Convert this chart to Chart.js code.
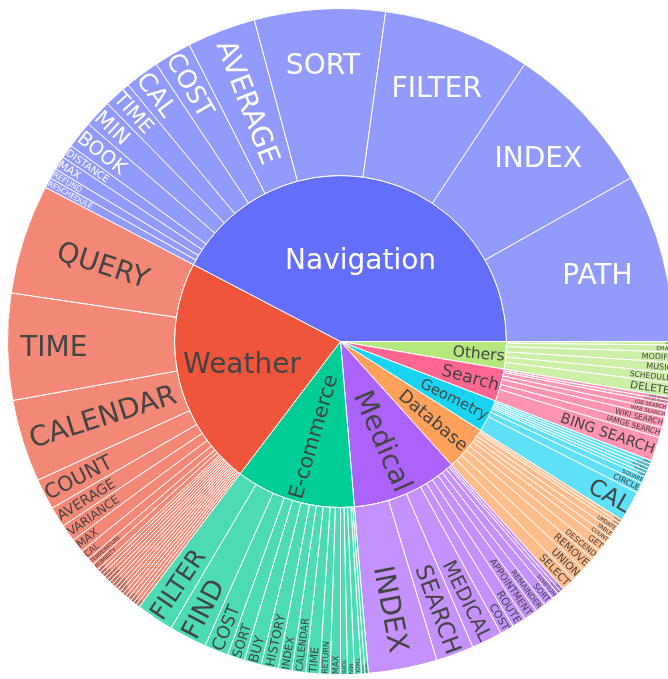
<!DOCTYPE html>
<html>
<head>
<meta charset="utf-8">
<script src="https://cdn.jsdelivr.net/npm/chart.js@4"></script>
<style>
html, body { margin: 0; padding: 0; background: #fff; overflow: hidden; }
#chart { position: absolute; left: 7px; top: 8px; }
</style>
</head>
<body>
<canvas id="chart" width="667" height="667"></canvas>
<script>
// categories, counter-clockwise from 3 o'clock like the original
var categories = ['Navigation', 'Weather', 'E-commerce', 'Medical', 'Database', 'Geometry', 'Search', 'Others'];
var categoryColors = ['#636efa', '#EF553B', '#00cc96', '#ab63fa', '#FFA15A', '#19d3f3', '#FF6692', '#B6E880'];
var categoryTextColors = ['#fff', '#444', '#444', '#444', '#444', '#444', '#444', '#444'];

var navigationLabels = ['PATH', 'INDEX', 'FILTER', 'SORT', 'AVERAGE', 'COST', 'CAL', 'TIME', 'MIN', 'BOOK', 'DISTANCE', 'MAX', 'REFUND', 'RESCHEDULE'];
var navigationValues = [49, 45, 43, 38, 20, 11, 10, 8, 8, 8, 4, 4, 3, 3];

var weatherLabels = ['QUERY', 'TIME', 'CALENDAR', 'COUNT', 'AVERAGE', 'VARIANCE', 'MAX', 'CAL', 'TEMPERATURE', 'HUMIDITY',
    'WIND', 'RAIN', 'SNOW', 'FORECAST', 'PRESSURE', 'CLOUD', 'STORM', 'SUNRISE', 'SUNSET', 'ALERT', 'FOG', 'UV', 'DEW', 'HEAT', 'AIR', 'TIDE'];
var weatherValues = [32, 31, 24, 9, 6, 5, 4, 3, 2, 2, 1, 1, 1, 1, 1, 1, 1, 1, 1, 1, 1, 1, 1, 1, 1, 1];

var ecommerceLabels = ['FILTER', 'FIND', 'COST', 'SORT', 'BUY', 'HISTORY', 'INDEX', 'CALENDAR', 'TIME', 'RETURN', 'MAX', 'TOPK', 'MIN', 'TMOL', 'PRICE', 'ORDER'];
var ecommerceValues = [11, 11, 7, 5, 5, 5, 4, 4, 4, 3, 3, 2, 2, 2, 1, 1];

var medicalLabels = ['INDEX', 'SEARCH', 'MEDICAL', 'COST', 'ROUTE', 'APPOINTMENT', 'REMAINDER', 'SORT', 'SYMPTOM', 'DOCTOR', 'DRUG'];
var medicalValues = [20, 11, 9, 4, 4, 4, 3, 3, 2, 1, 1];

var databaseLabels = ['SELECT', 'UNION', 'REMOVE', 'DESCEND', 'GET', 'COUNT', 'TABLE', 'UPDATE', 'JOIN', 'DROP'];
var databaseValues = [4, 4, 4, 3, 3, 2, 2, 2, 1, 1];

var geometryLabels = ['CAL', 'CIRCLE', 'SQUARE', 'SQRT', 'TRIANGLE', 'RECTANGLE', 'POLYGON', 'AREA'];
var geometryValues = [9, 3, 2, 1, 1, 1, 1, 1];

var searchLabels = ['BING SEARCH', 'IAMGE SEARCH', 'WIKI SEARCH', 'WEB SEARCH', 'JOB SEARCH', 'YOUTUBE SEARCH', 'NEWS SEARCH'];
var searchValues = [7, 3, 3, 2, 2, 1, 1];

var othersLabels = ['DELETE', 'SCHEDULE', 'MUSIC', 'MODIFY', 'EMAIL', 'NOTE'];
var othersValues = [4, 3, 3, 3, 2, 1];

var childLabels = [navigationLabels, weatherLabels, ecommerceLabels, medicalLabels, databaseLabels, geometryLabels, searchLabels, othersLabels];
var childValues = [navigationValues, weatherValues, ecommerceValues, medicalValues, databaseValues, geometryValues, searchValues, othersValues];

// leaves are drawn at 0.7 opacity over white
function lighten(hex) {
    var n = parseInt(hex.slice(1), 16);
    var r = n >> 16, g = (n >> 8) & 255, b = n & 255;
    return 'rgb(' + Math.round(r * 0.7 + 76.5) + ',' + Math.round(g * 0.7 + 76.5) + ',' + Math.round(b * 0.7 + 76.5) + ')';
}

var leafLabels = [], leafValues = [], leafColors = [], leafTextColors = [];
var parentValues = [];
categories.forEach(function (c, i) {
    var sum = 0;
    childValues[i].forEach(function (v, j) {
        leafLabels.push(childLabels[i][j]);
        leafValues.push(v);
        leafColors.push(lighten(categoryColors[i]));
        leafTextColors.push(categoryTextColors[i]);
        sum += v;
    });
    parentValues.push(sum);
});

// chart.js goes clockwise, so reverse everything and start at 3 o'clock
function rev(a) { return a.slice().reverse(); }

var FONT = '"DejaVu Sans", Verdana, sans-serif';
var BASE = 28;

function maxHalfSize(a, halfAngle, r, ring) {
    var q = a + 1 / (2 * Math.tan(halfAngle));
    return r * Math.min(1 / (Math.sqrt(q * q + 0.5) + q), ring / (Math.sqrt(a * a + ring / 2) + a));
}
function norm(d) { return ((d % 180) + 180) % 180; }

function drawLabel(ctx, text, color, p) {
    ctx.font = BASE + 'px ' + FONT;
    var w = ctx.measureText(text).width;
    var h = BASE * 1.164;
    var span = p.endAngle - p.startAngle;
    var half = Math.min(span, Math.PI) / 2;
    var r = p.outerRadius;
    var ring = 1 - p.innerRadius / r;
    var mid = (p.startAngle + p.endAngle) / 2;
    var rIns = Math.max(0, Math.min(1 / (1 + 1 / Math.sin(half)), ring / 2));

    var best = { scale: rIns * r * 2 / Math.sqrt(w * w + h * h), rCenter: 1 - rIns, rotate: 0 };
    if (best.scale < 1) {
        var rr = Math.max(0, r - 6);
        var a = w / h;
        var s = maxHalfSize(a, half, rr, ring);
        var rad = { scale: 2 * s / h, rCenter: Math.cos(s / rr) - a * s / rr, rotate: norm(mid * 180 / Math.PI + 90) - 90 };
        a = h / w;
        s = maxHalfSize(a, half, rr, ring);
        var tan = { scale: 2 * s / w, rCenter: Math.cos(s / rr) - a * s / rr, rotate: norm(mid * 180 / Math.PI + 180) - 90 };
        [rad, tan].forEach(function (t) { if (t.scale > best.scale) best = t; });
    }
    var size = BASE * Math.min(1, best.scale);
    if (size < 0.6) return;
    var R = best.rCenter * r;
    ctx.save();
    ctx.translate(p.x + R * Math.cos(mid), p.y + R * Math.sin(mid));
    ctx.rotate(best.rotate * Math.PI / 180);
    ctx.font = size + 'px ' + FONT;
    ctx.fillStyle = color;
    ctx.textAlign = 'center';
    ctx.textBaseline = 'alphabetic';
    ctx.fillText(text, 0, 0.346 * size);
    ctx.restore();
}

var sunburstLabels = {
    id: 'sunburstLabels',
    afterDatasetsDraw: function (chart) {
        var ctx = chart.ctx;
        chart.data.datasets.forEach(function (ds, di) {
            chart.getDatasetMeta(di).data.forEach(function (arc, i) {
                var p = arc.getProps(['x', 'y', 'startAngle', 'endAngle', 'innerRadius', 'outerRadius'], true);
                drawLabel(ctx, ds.texts[i], ds.textColors[i], p);
            });
        });
    }
};

var ctx = document.getElementById('chart').getContext('2d');

var myChart = new Chart(ctx, {
    type: 'doughnut',
    data: {
        labels: rev(leafLabels),
        datasets: [{
            data: rev(leafValues),
            backgroundColor: rev(leafColors),
            texts: rev(leafLabels),
            textColors: rev(leafTextColors),
            borderColor: '#fff',
            borderWidth: 1,
            hoverBorderWidth: 1,
            hoverOffset: 0,
            weight: 167
        }, {
            data: rev(parentValues),
            backgroundColor: rev(categoryColors),
            texts: rev(categories),
            textColors: rev(categoryTextColors),
            borderColor: '#fff',
            borderWidth: 1,
            hoverBorderWidth: 1,
            hoverOffset: 0,
            weight: 166
        }]
    },
    options: {
        responsive: false,
        animation: false,
        rotation: 90,
        cutout: 0,
        layout: { padding: 0 },
        plugins: {
            legend: { display: false },
            tooltip: { enabled: false }
        }
    },
    plugins: [sunburstLabels]
});
</script>
</body>
</html>
